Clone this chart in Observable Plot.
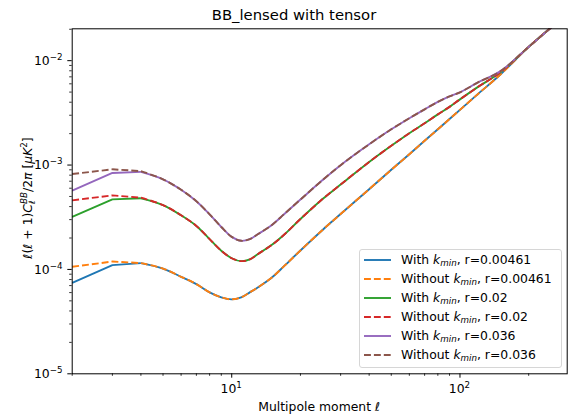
<!DOCTYPE html>
<html><head><meta charset="utf-8">
<script src="https://cdn.jsdelivr.net/npm/d3@7"></script>
<script src="https://cdn.jsdelivr.net/npm/@observablehq/plot@0.6"></script>
<style>
body{margin:0;background:#fff;font-family:"DejaVu Sans",sans-serif;}
#wrap{position:relative;width:568px;height:414px;overflow:hidden;background:#fff;}
#title{position:absolute;left:144px;width:300px;top:6px;height:18px;line-height:18px;text-align:center;font-size:14.8px;color:#000;}
#chart{position:absolute;left:0;top:0;}
#legend{position:absolute;left:359px;top:249px;width:201px;height:117px;border:1px solid #d6d6d6;border-radius:3px;background:rgba(255,255,255,0.8);}
.row{position:absolute;left:0;height:16px;line-height:16px;font-size:12.4px;color:#000;white-space:nowrap;}
.row svg{position:absolute;left:4px;top:6px;}
.row span{position:absolute;left:41px;top:0;}
.row sub{font-size:8.7px;vertical-align:-2px;line-height:0;font-style:italic;}
</style></head>
<body>
<div id="wrap"><div id="chart"></div><div id="title">BB_lensed with tensor</div><div id="legend"></div></div>
<script>
// multipoles
const ell = [2,3,4,5,6,7,8,9,10,11,12,13,15,17,20,25,30,40,50,60,70,80,90,100,120,150,200,250,295];
// r = 0.00461
const withKmin_r00461 = [7.45e-5,1.10e-4,1.15e-4,1.02e-4,8.5e-5,7.24e-5,6.03e-5,5.4e-5,5.17e-5,5.4e-5,6.03e-5,6.71e-5,8.37e-5,1.08e-4,1.52e-4,2.39e-4,3.39e-4,5.87e-4,9.0e-4,1.27e-3,1.71e-3,2.20e-3,2.76e-3,3.38e-3,4.80e-3,7.33e-3,1.355e-2,2.07e-2,2.82e-2];
const withoutKmin_r00461 = [1.06e-4,1.19e-4,1.15e-4,1.02e-4,8.5e-5,7.24e-5,6.03e-5,5.4e-5,5.17e-5,5.4e-5,6.03e-5,6.71e-5,8.37e-5,1.08e-4,1.52e-4,2.39e-4,3.39e-4,5.87e-4,9.0e-4,1.27e-3,1.71e-3,2.20e-3,2.76e-3,3.38e-3,4.80e-3,7.33e-3,1.355e-2,2.07e-2,2.82e-2];
// r = 0.02
const withKmin_r002 = [3.18e-4,4.69e-4,4.8e-4,4.14e-4,3.3e-4,2.61e-4,1.95e-4,1.51e-4,1.28e-4,1.20e-4,1.25e-4,1.40e-4,1.72e-4,2.16e-4,3.04e-4,4.72e-4,6.50e-4,1.07e-3,1.53e-3,2.02e-3,2.51e-3,3.06e-3,3.61e-3,4.26e-3,5.61e-3,7.71e-3,1.355e-2,2.07e-2,2.82e-2];
const withoutKmin_r002 = [4.59e-4,5.12e-4,4.87e-4,4.14e-4,3.3e-4,2.61e-4,1.95e-4,1.51e-4,1.28e-4,1.20e-4,1.25e-4,1.40e-4,1.72e-4,2.16e-4,3.04e-4,4.72e-4,6.50e-4,1.07e-3,1.53e-3,2.02e-3,2.51e-3,3.06e-3,3.61e-3,4.26e-3,5.61e-3,7.71e-3,1.355e-2,2.07e-2,2.82e-2];
// r = 0.036
const withKmin_r0036 = [5.7e-4,8.4e-4,8.6e-4,7.3e-4,5.8e-4,4.5e-4,3.37e-4,2.55e-4,2.05e-4,1.88e-4,1.95e-4,2.17e-4,2.67e-4,3.40e-4,4.67e-4,7.18e-4,9.98e-4,1.58e-3,2.20e-3,2.81e-3,3.42e-3,4.03e-3,4.55e-3,4.97e-3,6.19e-3,7.89e-3,1.355e-2,2.07e-2,2.82e-2];
const withoutKmin_r0036 = [8.2e-4,9.1e-4,8.75e-4,7.3e-4,5.8e-4,4.5e-4,3.37e-4,2.55e-4,2.05e-4,1.88e-4,1.95e-4,2.17e-4,2.67e-4,3.40e-4,4.67e-4,7.18e-4,9.98e-4,1.58e-3,2.20e-3,2.81e-3,3.42e-3,4.03e-3,4.55e-3,4.97e-3,6.19e-3,7.89e-3,1.355e-2,2.07e-2,2.82e-2];

const seriesValues = [withKmin_r00461, withoutKmin_r00461, withKmin_r002, withoutKmin_r002, withKmin_r0036, withoutKmin_r0036];
const seriesR = ["0.00461","0.00461","0.02","0.02","0.036","0.036"];
const seriesWith = [true,false,true,false,true,false];
const seriesColors = ["#1f77b4","#ff7f0e","#2ca02c","#d62728","#9467bd","#8c564b"];

const xMajor = [10,100];
const xMinor = [2,3,4,5,6,7,8,9,20,30,40,50,60,70,80,90,200];
const yMajor = [1e-5,1e-4,1e-3,1e-2];
const yMinor = [];
for (const d of [1e-5,1e-4,1e-3,1e-2]) for (let k=2;k<=9;k++) if (k*d <= 0.0202) yMinor.push(k*d);

const dash = "6.9,3";
const lineMarks = [];
seriesValues.forEach((vals, i) => {
  const pts = ell.map((l, j) => ({ell: l, v: vals[j]}));
  const style = {x: "ell", y: "v", stroke: seriesColors[i], strokeWidth: 1.9, clip: true,
    strokeDasharray: seriesWith[i] ? null : dash, strokeLinejoin: "round", strokeLinecap: "butt"};
  lineMarks.push(Plot.line(pts.filter(p => p.ell <= 4), {...style, curve: "linear"}));
  lineMarks.push(Plot.line(pts.filter(p => p.ell >= 4), {...style, curve: "catmull-rom"}));
});

const plot = Plot.plot({
  width: 568, height: 414,
  marginLeft: 71.7, marginRight: 1.3, marginTop: 28.3, marginBottom: 40.7,
  x: {type: "log", domain: [2, 295]},
  y: {type: "log", domain: [1e-5, 0.0202]},
  style: {fontFamily: "DejaVu Sans", fontSize: "12.4px", color: "black", background: "white", overflow: "visible"},
  marks: [
    ...lineMarks,
    Plot.axisX({ticks: xMinor, tickSize: 2.5, tickFormat: () => "", label: null, strokeWidth: 0.8}),
    Plot.axisX({ticks: xMajor, tickSize: 4.4, tickFormat: () => "", label: null, strokeWidth: 1}),
    Plot.axisY({ticks: yMinor, tickSize: 2.5, tickFormat: () => "", label: null, strokeWidth: 0.8}),
    Plot.axisY({ticks: yMajor, tickSize: 4.4, tickFormat: () => "", label: null, strokeWidth: 1}),
    Plot.frame({stroke: "black", strokeWidth: 1})
  ]
});
document.getElementById("chart").appendChild(plot);

const svg = d3.select(plot);
const sx = plot.scale("x"), sy = plot.scale("y");
// x tick labels
for (const v of xMajor) {
  const t = svg.append("text").attr("x", sx.apply(v)).attr("y", 393.3).attr("text-anchor", "middle")
    .attr("font-size", "12.4px").attr("fill", "black");
  t.append("tspan").text("10");
  t.append("tspan").attr("font-size", "8.7px").attr("dy", -5).text(String(Math.round(Math.log10(v))));
}
// y tick labels
for (const v of yMajor) {
  const t = svg.append("text").attr("x", 62.5).attr("y", sy.apply(v) + 4.8).attr("text-anchor", "end")
    .attr("font-size", "12.4px").attr("fill", "black");
  t.append("tspan").text("10");
  t.append("tspan").attr("font-size", "8.7px").attr("dy", -5).text("−" + String(-Math.round(Math.log10(v))));
}
// x label
svg.append("text").attr("x", 319.2).attr("y", 410.5).attr("text-anchor", "middle")
  .attr("font-size", "12.4px").attr("fill", "black").text("Multipole moment ℓ");
// y label
const yl = svg.append("text").attr("transform", "translate(32,198) rotate(-90)")
  .attr("text-anchor", "middle").attr("font-size", "12.4px").attr("fill", "black");
yl.append("tspan").attr("font-style", "italic").text("ℓ");
yl.append("tspan").text("(");
yl.append("tspan").attr("font-style", "italic").text("ℓ");
yl.append("tspan").text(" + 1)");
yl.append("tspan").attr("font-style", "italic").text("C");
yl.append("tspan").attr("font-style", "italic").attr("font-size", "8.7px").attr("dy", 3).text("ℓ");
yl.append("tspan").attr("font-style", "italic").attr("font-size", "8.7px").attr("dx", -3.5).attr("dy", -8.5).text("BB");
yl.append("tspan").attr("dy", 5.5).text("/2");
yl.append("tspan").attr("font-style", "italic").text("π");
yl.append("tspan").text(" [");
yl.append("tspan").attr("font-style", "italic").text("μK");
yl.append("tspan").attr("font-size", "8.7px").attr("dy", -5).text("2");
yl.append("tspan").attr("dy", 5).text("]");

// legend
const legend = document.getElementById("legend");
seriesValues.forEach((_, i) => {
  const row = document.createElement("div");
  row.className = "row";
  row.style.top = (259 - 249 - 8 + i * 19.06) + "px";
  const dashAttr = seriesWith[i] ? "" : ` stroke-dasharray="${dash}"`;
  row.innerHTML = `<svg width="28" height="4"><line x1="0" y1="2" x2="27" y2="2" stroke="${seriesColors[i]}" stroke-width="1.9"${dashAttr}/></svg>` +
    `<span>${seriesWith[i] ? "With" : "Without"} <i>k</i><sub>min</sub>, r=${seriesR[i]}</span>`;
  legend.appendChild(row);
});
</script>
</body></html>
